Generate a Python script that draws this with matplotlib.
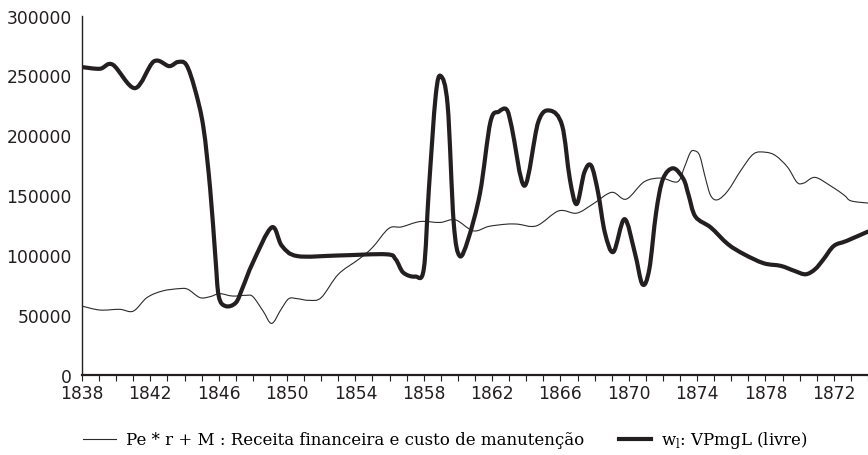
import numpy as np
import matplotlib.pyplot as plt
from matplotlib.path import Path
from matplotlib.patches import PathPatch
from matplotlib.lines import Line2D
from matplotlib.ticker import MultipleLocator

# Pe * r + M (thin line)
thin_years = [1838.0, 1839.05, 1840.2, 1841.0, 1841.8, 1842.7, 1843.7, 1844.2, 1844.9, 1845.5,
              1846.05, 1846.8, 1847.6, 1848.0, 1848.6, 1849.1, 1849.65, 1850.1, 1850.6, 1851.3,
              1852.0, 1853.0, 1854.2, 1855.0, 1855.95, 1856.7, 1857.8, 1858.95, 1859.85, 1860.9,
              1861.8, 1862.85, 1863.5, 1864.6, 1865.9, 1866.95, 1867.9, 1869.0, 1869.85, 1870.9,
              1871.9, 1872.85, 1873.25, 1873.6, 1873.85, 1874.15, 1874.5, 1874.8, 1875.2, 1875.8,
              1876.55, 1877.3, 1878.0, 1878.6, 1879.3, 1879.85, 1880.25, 1880.9, 1881.8, 1882.6,
              1883.0, 1884.0]
thin_vals = [57200, 53900, 54500, 53000, 64300, 69800, 71800, 71200, 64300, 65100,
             67600, 65600, 66200, 65100, 53000, 42700, 54500, 63400, 63400, 62000,
             64300, 83800, 96400, 106200, 122100, 123400, 127900, 127100, 129300, 120100,
             123800, 125700, 125700, 124300, 136800, 134900, 142500, 152300, 146600, 161100,
             164200, 161100, 173200, 185500, 187000, 182900, 163400, 149400, 146100, 153600,
             170400, 184400, 185800, 182900, 173200, 160600, 160100, 164800, 157800, 150000,
             145200, 143300]

# w_l : VPmgL (livre) (thick line)
thick_years = [1838.0, 1839.05, 1839.8, 1841.1, 1842.2, 1843.1, 1843.6, 1844.1, 1844.6, 1845.1,
               1845.5, 1845.8, 1846.0, 1846.4, 1847.0, 1847.4, 1848.0, 1849.1, 1849.7, 1850.6,
               1853.0, 1855.8, 1856.35, 1856.8, 1857.5, 1858.0, 1858.3, 1858.7, 1859.0, 1859.4,
               1859.75, 1860.1, 1860.6, 1861.3, 1861.9, 1862.4, 1862.85, 1863.15, 1863.9, 1864.7,
               1865.4, 1866.1, 1866.55, 1866.95, 1867.4, 1867.8, 1868.2, 1868.6, 1869.1, 1869.75,
               1870.35, 1870.8, 1871.2, 1871.6, 1872.0, 1872.6, 1873.2, 1873.5, 1873.9, 1874.8,
               1875.8, 1876.75, 1877.9, 1878.9, 1879.7, 1880.35, 1880.9, 1881.4, 1882.0, 1882.75,
               1884.0]
thick_vals = [257000, 255600, 259000, 239400, 261700, 257800, 261200, 259000, 238800, 207000,
              155000, 99100, 65600, 57200, 60000, 72600, 93600, 123000, 107500, 99000,
              99500, 100500, 96400, 85200, 81900, 88000, 155000, 233200, 249500, 224800,
              127400, 99100, 113100, 152300, 211000, 219800, 221500, 206700, 157800, 211000,
              220600, 208100, 163400, 142500, 169000, 174600, 152300, 118700, 102500, 129900,
              102000, 75400, 88000, 135500, 163400, 172400, 163400, 150000, 132000, 122900,
              109000, 100500, 93000, 90800, 86600, 83800, 88000, 96400, 107500, 111700,
              119500]

tick_years = list(range(1838, 1883, 4))
tick_labels = ['1838', '1842', '1846', '1850', '1854', '1858', '1862', '1866',
               '1870', '1874', '1878', '1872']
y_ticks = [0, 50000, 100000, 150000, 200000, 250000, 300000]


def smooth_path(xs, ys):
    # smoothed line through the points (Catmull-Rom drawn as cubic Bezier segments)
    p = np.column_stack([xs, ys]).astype(float)
    verts = [p[0]]
    codes = [Path.MOVETO]
    n = len(p)
    for i in range(n - 1):
        p0 = p[i - 1] if i > 0 else p[i]
        p3 = p[i + 2] if i + 2 < n else p[i + 1]
        c1 = p[i] + (p[i + 1] - p0) / 6.0
        c2 = p[i + 1] - (p3 - p[i]) / 6.0
        verts += [c1, c2, p[i + 1]]
        codes += [Path.CURVE4] * 3
    return Path(verts, codes)


fig = plt.figure(figsize=(8.68, 4.56), dpi=100)
ax = fig.add_axes([0.0945, 0.1765, 0.9055, 0.787])

thin_style = dict(color='#2b2b2b', lw=0.8)
thick_style = dict(color='#231f20', lw=3.0)

ax.add_patch(PathPatch(smooth_path(thin_years, thin_vals), fill=False,
                       edgecolor=thin_style['color'], lw=thin_style['lw'], joinstyle='round'))
ax.add_patch(PathPatch(smooth_path(thick_years, thick_vals), fill=False,
                       edgecolor=thick_style['color'], lw=thick_style['lw'],
                       joinstyle='round', capstyle='round'))

ax.set_xlim(1838, 1884)
ax.set_ylim(0, 300000)
ax.set_yticks(y_ticks)
ax.set_yticklabels([str(v) for v in y_ticks])
ax.set_xticks(tick_years)
ax.set_xticklabels(tick_labels)
ax.xaxis.set_minor_locator(MultipleLocator(1))

ax.tick_params(axis='y', length=0, pad=7.5, labelsize=12.3, labelcolor='#231f20')
ax.tick_params(axis='x', which='both', length=4.5, width=0.8, pad=2.5,
               labelsize=12.3, labelcolor='#231f20', color='#231f20')

for s in ['top', 'right']:
    ax.spines[s].set_visible(False)
ax.spines['left'].set_linewidth(1.0)
ax.spines['bottom'].set_linewidth(1.6)
ax.spines['left'].set_color('#231f20')
ax.spines['bottom'].set_color('#231f20')

handles = [Line2D([], [], **thin_style), Line2D([], [], **thick_style)]
labels = ['Pe * r + M : Receita financeira e custo de manutenção',
          r'w$_\mathregular{l}$: VPmgL (livre)']
fig.legend(handles, labels, loc='center left', bbox_to_anchor=(83 / 868, 0.033),
           ncol=2, frameon=False, borderpad=0, borderaxespad=0,
           handlelength=1.95, handletextpad=0.6, columnspacing=2.1,
           prop={'family': 'DejaVu Serif', 'size': 12})

plt.savefig('out.png', dpi=100)
plt.close()
